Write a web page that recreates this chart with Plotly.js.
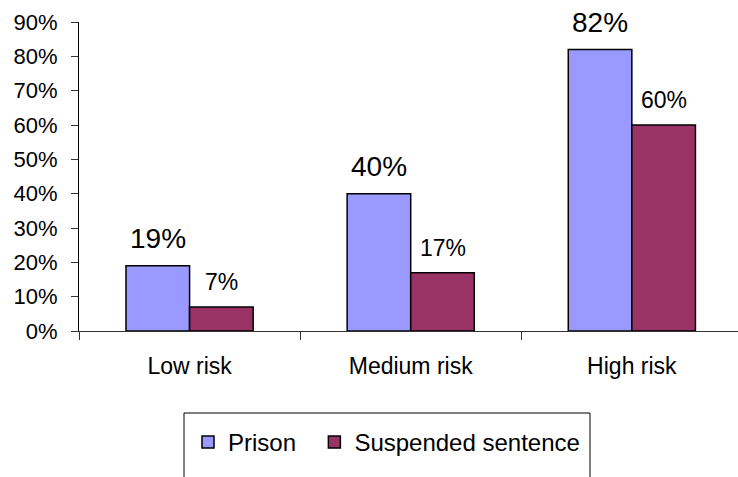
<!DOCTYPE html>
<html>
<head>
<meta charset="utf-8">
<script src="https://cdn.plot.ly/plotly-3.0.1.min.js"></script>
<style>
html,body{margin:0;padding:0;background:#fff;}
#chart{width:738px;height:477px;}
</style>
</head>
<body>
<div id="chart"></div>
<script>
var categories = ["Low risk", "Medium risk", "High risk"];
var seriesNames = ["Prison", "Suspended sentence"];
var prison = [0.19, 0.40, 0.82];
var suspended = [0.07, 0.17, 0.60];
var yTickVals = [0, 0.1, 0.2, 0.3, 0.4, 0.5, 0.6, 0.7, 0.8, 0.9];

var FONT = "Liberation Sans, Arial, sans-serif";
var colors = ["#9999FF", "#993366"];
var labelSizes = [28, 23];
var labelShift = [27, 25];
var bargap = 0.425;
var barW = (1 - bargap) / 2;
var NBSP2 = "\u00a0\u00a0";

var allSeries = [prison, suspended];
var traces = allSeries.map(function (vals, s) {
  return {
    type: "bar",
    name: seriesNames[s] + (s === 0 ? NBSP2 : ""),
    x: categories,
    y: vals,
    marker: {color: colors[s], line: {color: "#000", width: 1.5}},
    hoverinfo: "none"
  };
});

var annotations = [];
allSeries.forEach(function (vals, s) {
  var off = (s === 0 ? -0.5 : 0.5) * barW;
  vals.forEach(function (v, i) {
    annotations.push({
      x: i + off, y: v, xref: "x", yref: "y",
      text: Math.round(v * 100) + "%",
      showarrow: false, yanchor: "middle", xanchor: "center",
      yshift: labelShift[s],
      font: {family: FONT, size: labelSizes[s], color: "#000"}
    });
  });
});

// legend frame (pixel positions converted to paper coords)
var L = 79, R = 0, T = 22, B = 146, W = 738, H = 477;
var pw = W - L - R, ph = H - T - B;
function px(x) { return (x - L) / pw; }
function py(y) { return (H - B - y) / ph; }

var layout = {
  width: W, height: H,
  margin: {l: L, r: R, t: T, b: B, pad: 0, autoexpand: false},
  paper_bgcolor: "#fff", plot_bgcolor: "#fff",
  font: {family: FONT, size: 22, color: "#000"},
  barmode: "group",
  bargap: bargap, bargroupgap: 0,
  showlegend: true,
  xaxis: {
    type: "category",
    range: [-0.5, 2.48],
    showline: true, linecolor: "#333", linewidth: 1,
    ticks: "outside", tickson: "boundaries", ticklen: 8, tickcolor: "#333",
    ticklabelstandoff: 14,
    tickfont: {family: FONT, size: 23, color: "#000"},
    showgrid: false, zeroline: false, fixedrange: true
  },
  yaxis: {
    range: [0, 0.9],
    tickvals: yTickVals, tickformat: ".0%",
    showline: true, linecolor: "#000", linewidth: 1,
    ticks: "outside", ticklen: 7, tickcolor: "#333",
    ticklabelstandoff: 9,
    tickfont: {family: FONT, size: 22, color: "#000"},
    showgrid: false, zeroline: false, fixedrange: true
  },
  legend: {
    orientation: "h",
    xref: "container", yref: "container",
    x: 188 / W, y: 1 - 420 / H, xanchor: "left", yanchor: "top",
    bgcolor: "rgba(0,0,0,0)", borderwidth: 0,
    font: {family: FONT, size: 24, color: "#000"},
    itemclick: false, itemdoubleclick: false
  },
  shapes: [{
    type: "rect", xref: "paper", yref: "paper",
    x0: px(184), x1: px(590), y0: py(413), y1: py(490),
    line: {color: "#000", width: 1}, fillcolor: "rgba(0,0,0,0)"
  }],
  annotations: annotations
};

Plotly.newPlot("chart", traces, layout, {displayModeBar: false, staticPlot: true});
</script>
</body>
</html>
